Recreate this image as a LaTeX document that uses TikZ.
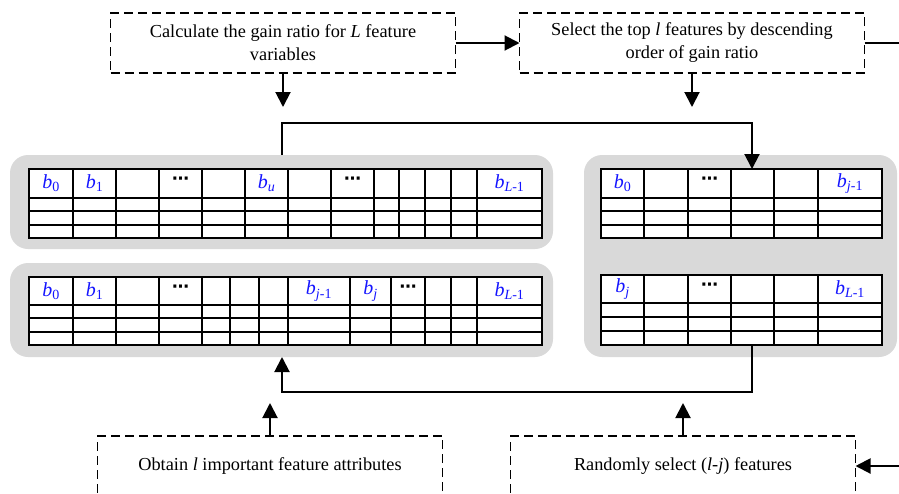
\documentclass[tikz,border=0pt]{standalone}
\usepackage{fontspec}
\setmainfont{Liberation Serif}
\newfontfamily\dotsfont{DejaVu Sans}
\usetikzlibrary{arrows.meta}
\definecolor{panelgray}{RGB}{217,217,217}
\definecolor{labelblue}{RGB}{20,20,255}
\begin{document}
\begin{tikzpicture}[x=1pt,y=-1pt,
  stepbox/.style={draw, dash pattern=on 9pt off 5pt, line width=1.5pt, minimum width=345pt, minimum height=60pt, align=center, font=\fontsize{18.3}{23}\selectfont, inner sep=0pt, outer sep=0pt},
  panel/.style={fill=panelgray, rounded corners=18pt, anchor=north west, inner sep=0pt, outer sep=0pt},
  tab/.style={draw, fill=white, line width=1.4pt, anchor=north west, inner sep=0pt, outer sep=0pt},
  gridline/.style={line width=1.4pt},
  hdr/.style={text=labelblue, font=\fontsize{20}{22}\selectfont\itshape, inner sep=0pt},
  dts/.style={font=\fontsize{17}{18}\selectfont\dotsfont\bfseries, inner sep=0pt},
  conn/.style={line width=2pt},
  arr/.style={conn, -{Triangle[length=15pt,width=15pt]}},
]
\useasboundingbox (0,0) rectangle (899,493);
\clip (0,0) rectangle (899,493);

% grey panels
\node[panel, minimum width=543pt, minimum height=94pt] (pA) at (10,155) {};
\node[panel, minimum width=543pt, minimum height=94pt] (pB) at (10,263) {};
\node[panel, minimum width=313pt, minimum height=202pt] (pC) at (584,155) {};

% table A (left top)
\node[tab, minimum width=513pt, minimum height=69pt] (tA) at (29,169) {};
\foreach \x in {73,116,159,202,245,288,331,374,399,425,451,477}
  \draw[gridline] (\x,169) -- (\x,238);
\foreach \y in {198,211,225}
  \draw[gridline] (29,\y) -- (542,\y);
\node[hdr] (tA-h1) at (51,183.5) {b\textsubscript{\upshape 0}};
\node[hdr] (tA-h2) at (94.5,183.5) {b\textsubscript{\upshape 1}};
\node[dts] (tA-h3) at (180.5,181) {⋯};
\node[hdr] (tA-h4) at (266.5,183.5) {b\textsubscript{u}};
\node[dts] (tA-h5) at (352.5,181) {⋯};
\node[hdr] (tA-h6) at (509.5,183.5) {b\textsubscript{L\upshape -1}};

% table B (left bottom)
\node[tab, minimum width=513pt, minimum height=68pt] (tB) at (29,277) {};
\foreach \x in {73,116,159,202,230,259,288,350,391,425,451,477}
  \draw[gridline] (\x,277) -- (\x,345);
\foreach \y in {305,318,332}
  \draw[gridline] (29,\y) -- (542,\y);
\node[hdr] (tB-h1) at (51,291) {b\textsubscript{\upshape 0}};
\node[hdr] (tB-h2) at (94.5,291) {b\textsubscript{\upshape 1}};
\node[dts] (tB-h3) at (180.5,289) {⋯};
\node[hdr] (tB-h4) at (319,291) {b\textsubscript{j\upshape -1}};
\node[hdr] (tB-h5) at (370.5,291) {b\textsubscript{j}};
\node[dts] (tB-h6) at (408,289) {⋯};
\node[hdr] (tB-h7) at (509.5,291) {b\textsubscript{L\upshape -1}};

% table C (right top)
\node[tab, minimum width=281pt, minimum height=69pt] (tC) at (601,169) {};
\foreach \x in {644,688,731,774,818}
  \draw[gridline] (\x,169) -- (\x,238);
\foreach \y in {198,211,225}
  \draw[gridline] (601,\y) -- (882,\y);
\node[hdr] (tC-h1) at (622.5,183.5) {b\textsubscript{\upshape 0}};
\node[dts] (tC-h2) at (709.5,181) {⋯};
\node[hdr] (tC-h3) at (850,183.5) {b\textsubscript{j\upshape -1}};

% table D (right bottom)
\node[tab, minimum width=281pt, minimum height=70pt] (tD) at (601,275) {};
\foreach \x in {644,688,731,774,818}
  \draw[gridline] (\x,275) -- (\x,345);
\foreach \y in {303,317,331}
  \draw[gridline] (601,\y) -- (882,\y);
\node[hdr] (tD-h1) at (622.5,289) {b\textsubscript{j}};
\node[dts] (tD-h2) at (709.5,287) {⋯};
\node[hdr] (tD-h3) at (850,289) {b\textsubscript{L\upshape -1}};

% step boxes
\node[stepbox] (s1) at (283,43) {Calculate the gain ratio for \textit{L} feature\\variables};
\node[stepbox] (s2) at (692,43) {Select the top \textit{l} features by descending\\order of gain ratio};
\node[stepbox] (s3) at (270,466) {Obtain \textit{l} important feature attributes};
\node[stepbox] (s4) at (683,466) {Randomly select (\textit{l}-\textit{j}) features};

% connectors
\coordinate (e1) at (910,43);
\coordinate (e2) at (910,466);
\coordinate (d1) at (283,107);
\coordinate (d2) at (692,107);
\coordinate (r1) at (282,123);
\coordinate (r2) at (752,123);
\coordinate (q1) at (752,392);
\coordinate (q2) at (282,392);
\coordinate (u1) at (270,403);
\coordinate (u2) at (683,403);

\draw[arr] (s1.east) -- (s2.west);
\draw[conn] (s2.east) -- (e1);
\draw[arr] (s1.south) -- (d1);
\draw[arr] (s2.south) -- (d2);
\draw[arr] (pA.north -| r1) -- (r1) -- (r2) -- (r2 |- tC.north);
\draw[arr] (tD.south -| q1) -- (q1) -- (q2) -- (q2 |- pB.south);
\draw[arr] (s3.north) -- (u1);
\draw[arr] (s4.north) -- (u2);
\draw[arr] (e2) -- (s4.east);
\end{tikzpicture}
\end{document}
